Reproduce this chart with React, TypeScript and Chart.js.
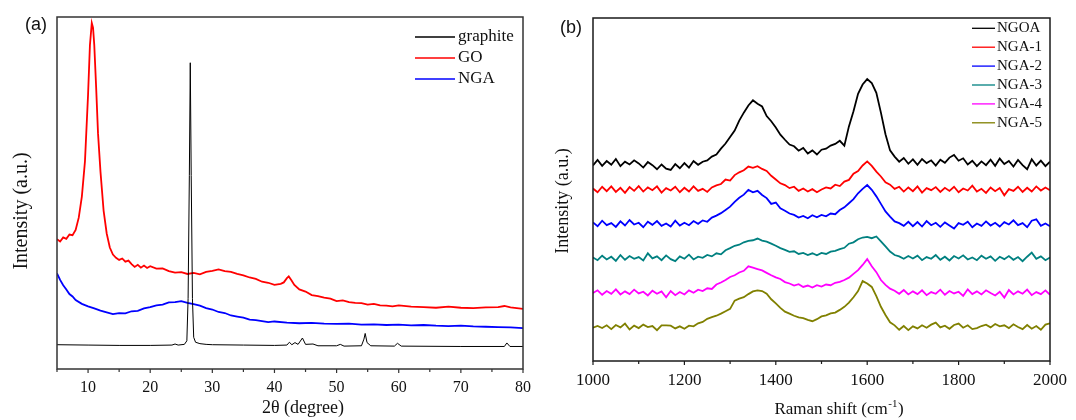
import React, { useEffect, useRef } from "react";
import { Chart, registerables } from "chart.js";

Chart.register(...registerables);

const SERIF = "'Liberation Serif', 'Times New Roman', Times, serif";
const SANS = "'Liberation Sans', Arial, Helvetica, sans-serif";

// ---------- Panel (a): XRD ----------
const xrdMajorTicks = [10, 20, 30, 40, 50, 60, 70, 80];
const xrdMinorTicks = [5, 15, 25, 35, 45, 55, 65, 75];

const graphiteX = [5, 10, 15, 20, 23.5, 24, 24.5, 25.5, 25.9, 26.1, 26.3, 26.45, 26.6, 26.8, 27.0, 27.3, 28, 29, 30, 35, 40, 42, 42.4, 42.8, 43.3, 43.8, 44.5, 45.0, 46.2, 47, 50, 50.6, 51.2, 54, 54.4, 54.6, 54.9, 55.5, 59.3, 59.8, 60.4, 70, 77, 77.4, 77.9, 80];
const graphiteY = [6.9, 6.8, 6.7, 6.7, 6.8, 7.1, 6.8, 7.0, 8.0, 20, 55, 87, 55, 20, 9.0, 7.6, 7.2, 7.0, 6.9, 6.8, 6.7, 6.8, 7.6, 6.9, 7.5, 7.0, 8.8, 7.0, 7.1, 6.6, 6.6, 7.0, 6.5, 6.6, 8.5, 10.1, 7.5, 6.6, 6.5, 7.3, 6.5, 6.4, 6.4, 7.4, 6.4, 6.4];

const goX = [5, 5.5, 6, 6.5, 7, 7.5, 8, 8.5, 9, 9.5, 10, 10.3, 10.6, 10.8, 11.0, 11.3, 11.6, 12, 12.5, 13, 13.5, 14, 14.5, 15, 15.5, 16, 16.5, 17, 17.5, 18, 18.5, 19, 19.5, 20, 21, 22, 23, 24, 25, 26, 27, 28, 29, 30, 31, 32, 33, 34, 35, 36, 37, 38, 39, 40, 41, 41.5, 42, 42.3, 42.7, 43.2, 44, 45, 46, 47, 48, 49, 50, 51, 52, 53, 54, 55, 56, 57, 58, 59, 60, 62, 64, 66, 68, 70, 72, 74, 76, 77, 78, 80];
const goY = [36.9, 36.2, 37.4, 37.0, 38.2, 38.0, 39.5, 43.0, 49.0, 59.0, 78.0, 92.0, 98.3, 97.0, 92.0, 80.0, 67.0, 56.0, 45.0, 38.5, 34.5, 32.5, 31.6, 31.0, 31.4, 30.5, 30.8, 29.8, 29.0, 29.6, 28.8, 29.4, 28.7, 29.2, 28.5, 28.6, 27.8, 27.4, 27.5, 27.0, 27.3, 26.9, 27.6, 27.9, 28.3, 27.8, 27.6, 27.0, 26.6, 26.0, 25.6, 24.8, 24.5, 23.9, 24.2, 24.6, 25.8, 26.3, 25.3, 23.9, 22.6, 22.0, 21.0, 20.7, 20.3, 20.0, 19.3, 19.5, 19.0, 18.8, 18.7, 18.3, 18.5, 18.1, 18.0, 17.8, 18.1, 17.7, 17.6, 17.4, 17.7, 17.4, 17.3, 17.5, 17.6, 17.9, 17.5, 17.1];

const ngaX = [5, 5.5, 6, 6.5, 7, 7.5, 8, 9, 10, 11, 12, 13, 14, 15, 16, 17, 18, 19, 20, 21, 22, 23, 24, 25, 26, 27, 28, 29, 30, 31, 32, 33, 34, 35, 36, 37, 38, 39, 40, 42, 44, 46, 48, 50, 52, 54, 56, 58, 60, 62, 64, 66, 68, 70, 72, 74, 76, 78, 80];
const ngaY = [27.2, 25.3, 23.8, 22.6, 21.3, 20.6, 19.6, 18.5, 17.8, 17.2, 16.6, 16.1, 15.6, 15.9, 15.8, 16.4, 16.5, 17.2, 17.6, 18.1, 18.3, 18.9, 19.0, 19.3, 18.8, 18.4, 18.0, 17.3, 16.9, 16.2, 15.9, 15.2, 14.9, 14.6, 14.0, 13.9, 13.6, 13.3, 13.5, 13.2, 13.0, 13.1, 12.9, 12.8, 12.9, 12.6, 12.7, 12.5, 12.6, 12.4, 12.5, 12.3, 12.2, 12.3, 12.1, 12.0, 11.9, 11.8, 11.6];

const xrdLabels = ["graphite", "GO", "NGA"];
const xrdColors = ["#000000", "#ff0000", "#0000ff"];

// ---------- Panel (b): Raman ----------
const ramanMajorTicks = [1000, 1200, 1400, 1600, 1800, 2000];
const ramanMinorTicks = [1100, 1300, 1500, 1700, 1900];

const ramanShift = [1000, 1010, 1020, 1030, 1040, 1050, 1060, 1070, 1080, 1090, 1100, 1110, 1120, 1130, 1140, 1150, 1160, 1170, 1180, 1190, 1200, 1210, 1220, 1230, 1240, 1250, 1260, 1270, 1280, 1290, 1300, 1310, 1320, 1330, 1340, 1350, 1360, 1370, 1380, 1390, 1400, 1410, 1420, 1430, 1440, 1450, 1460, 1470, 1480, 1490, 1500, 1510, 1520, 1530, 1540, 1550, 1560, 1570, 1580, 1590, 1600, 1610, 1620, 1630, 1640, 1650, 1660, 1670, 1680, 1690, 1700, 1710, 1720, 1730, 1740, 1750, 1760, 1770, 1780, 1790, 1800, 1810, 1820, 1830, 1840, 1850, 1860, 1870, 1880, 1890, 1900, 1910, 1920, 1930, 1940, 1950, 1960, 1970, 1980, 1990, 2000];

const ngoa = [57.0, 58.6, 56.9, 58.3, 57.2, 58.9, 56.8, 58.1, 57.3, 58.5, 57.6, 56.4, 58.0, 57.1, 55.9, 57.3, 56.1, 55.7, 57.4, 56.2, 57.7, 56.4, 58.3, 57.2, 58.1, 58.5, 59.6, 60.2, 61.9, 63.4, 65.3, 67.2, 70.1, 72.4, 74.5, 76.0, 75.0, 74.2, 71.4, 69.9, 68.1, 66.0, 64.5, 63.1, 62.6, 61.3, 62.1, 60.5, 61.4, 60.2, 61.6, 61.9, 62.8, 63.3, 64.2, 62.8, 68.4, 72.8, 77.9, 80.6, 82.2, 81.0, 78.2, 72.4, 66.1, 61.4, 59.6, 58.1, 59.2, 57.5, 58.8, 57.2, 58.9, 57.7, 58.5, 57.0, 58.7, 57.8, 59.3, 60.1, 58.4, 59.1, 57.3, 58.4, 56.8, 58.2, 57.1, 58.7, 56.9, 59.0, 57.4, 58.3, 56.7, 58.6, 57.1, 55.9, 58.8, 57.0, 58.4, 56.8, 58.1];
const nga1 = [50.3, 49.2, 50.8, 49.5, 50.9, 49.3, 50.5, 49.0, 50.7, 49.6, 51.0, 49.4, 50.6, 49.8, 50.9, 49.1, 50.4, 49.7, 50.8, 49.2, 50.5, 49.4, 50.9, 49.6, 50.2, 49.3, 50.6, 51.2, 51.6, 52.9, 52.6, 54.2, 55.0, 55.6, 56.7, 56.3, 56.8, 56.0, 55.4, 54.0, 52.9, 51.8, 51.3, 50.4, 50.8, 49.6, 50.3, 49.4, 50.1, 49.2, 50.0, 50.6, 50.3, 51.4, 51.0, 52.3, 52.8, 54.6, 55.4, 57.0, 58.2, 56.9, 55.2, 53.8, 52.1, 51.4, 50.2, 50.8, 49.4, 50.6, 49.5, 50.9, 49.1, 50.4, 49.8, 50.7, 49.3, 50.5, 49.6, 50.8, 49.2, 50.3, 49.7, 51.1, 49.4, 50.2, 49.0, 50.6, 49.5, 50.4, 48.3, 50.1, 49.6, 50.8, 49.3, 50.5, 49.4, 50.9, 49.7, 50.6, 49.8];
const nga2 = [40.4, 39.3, 40.9, 39.6, 40.2, 39.1, 40.7, 39.5, 41.1, 39.8, 40.3, 39.0, 40.6, 39.7, 40.8, 39.4, 40.1, 39.2, 40.9, 39.5, 40.3, 39.6, 40.8, 40.0, 41.0, 40.6, 41.8, 42.4, 43.1, 44.0, 45.0, 46.4, 47.6, 48.5, 49.9, 49.2, 49.6, 48.4, 47.5, 45.8, 46.2, 44.5, 43.8, 43.0, 42.6, 41.8, 42.3, 41.6, 42.5, 41.9, 42.6, 42.2, 43.0, 42.8, 44.0, 44.8, 46.0, 47.2, 48.9, 50.2, 51.3, 49.9, 48.0, 45.8, 43.6, 42.1, 40.7, 40.2, 39.4, 40.6, 39.3, 40.5, 39.2, 40.8, 39.6, 40.3, 39.1, 40.4, 39.5, 38.6, 40.2, 39.7, 40.6, 39.0, 40.1, 39.4, 40.7, 39.5, 40.3, 39.2, 40.5, 39.8, 41.0, 39.6, 40.2, 39.0, 40.9, 41.3, 39.4, 40.1, 39.3];
const nga3 = [30.2, 29.4, 30.7, 29.6, 30.4, 29.2, 30.9, 29.5, 30.6, 29.8, 30.3, 29.3, 31.4, 29.9, 30.5, 29.4, 30.8, 29.7, 29.1, 30.5, 29.8, 31.0, 29.6, 30.4, 30.1, 30.9, 30.5, 31.4, 31.1, 32.3, 32.9, 33.6, 33.9, 34.6, 35.0, 35.2, 35.7, 35.1, 34.8, 34.2, 33.6, 32.9, 32.4, 31.8, 32.0, 31.2, 31.5, 30.9, 31.4, 30.8, 31.5, 31.2, 31.9, 32.1, 32.6, 33.0, 34.2, 34.6, 35.5, 36.0, 36.2, 35.8, 36.3, 34.9, 33.4, 31.9, 30.9, 30.5, 29.8, 30.6, 29.9, 30.7, 29.4, 30.3, 29.8, 30.9, 29.5, 30.4, 29.3, 30.6, 29.9, 30.8, 29.6, 30.2, 29.4, 30.7, 29.8, 30.5, 29.2, 30.4, 29.7, 30.6, 29.5, 30.3, 29.1, 30.4, 31.6, 29.8, 30.5, 29.4, 30.2];
const nga4 = [19.8, 20.6, 19.3, 20.4, 19.6, 20.9, 19.4, 20.3, 19.5, 20.8, 19.7, 20.2, 19.1, 20.5, 19.6, 20.3, 18.6, 20.4, 19.2, 20.1, 19.4, 20.6, 19.9, 20.8, 20.4, 21.2, 21.0, 22.3, 22.9, 23.6, 24.5, 25.0, 25.8, 26.3, 27.6, 27.2, 26.8, 26.4, 25.7, 25.0, 24.4, 23.9, 23.0, 22.6, 22.0, 22.4, 21.6, 22.0, 21.4, 22.1, 21.7, 22.3, 22.1, 22.8, 23.1, 23.6, 24.3, 25.4, 26.5, 28.0, 29.7, 27.6, 25.9, 23.6, 22.2, 21.1, 20.5, 19.6, 20.7, 19.4, 20.3, 19.5, 20.6, 19.2, 20.1, 19.6, 20.8, 19.3, 20.4, 19.7, 20.2, 19.0, 20.9, 19.5, 20.3, 19.4, 20.6, 19.8, 19.1, 20.2, 18.5, 20.7, 19.4, 20.3, 19.6, 20.8, 19.2, 20.1, 19.5, 20.6, 19.3];
const nga5 = [9.7, 10.2, 9.6, 10.4, 9.3, 10.5, 9.8, 10.9, 9.2, 10.3, 9.6, 10.6, 9.9, 10.2, 9.0, 10.4, 10.4, 10.3, 9.5, 10.1, 9.4, 10.3, 10.1, 11.0, 11.4, 12.3, 12.8, 13.2, 13.8, 14.5, 15.2, 17.6, 18.2, 18.6, 19.5, 20.3, 20.6, 20.4, 19.6, 18.0, 16.8, 15.5, 14.4, 13.8, 13.2, 12.7, 12.5, 12.0, 11.6, 12.2, 13.0, 13.3, 13.9, 14.1, 14.9, 15.8, 17.0, 18.6, 20.4, 23.3, 22.6, 21.6, 18.9, 15.8, 13.4, 11.3, 10.4, 9.1, 10.2, 9.0, 10.1, 9.5, 10.4, 9.7, 10.6, 11.2, 9.8, 10.3, 9.4, 10.5, 10.9, 9.7, 10.4, 9.3, 9.6, 10.2, 10.6, 9.8, 10.8, 10.1, 10.4, 9.6, 10.7, 9.9, 9.3, 10.5, 9.4, 10.2, 9.1, 10.6, 11.0];

const ramanLabels = ["NGOA", "NGA-1", "NGA-2", "NGA-3", "NGA-4", "NGA-5"];
const ramanColors = ["#000000", "#ff0000", "#0000ff", "#008080", "#ff00ff", "#808000"];
const ramanSeries = [ngoa, nga1, nga2, nga3, nga4, nga5];

function zip(xs: number[], ys: number[]) {
  return xs.map((x, i) => ({ x, y: ys[i] }));
}

type Deco = {
  id: string;
  major: number[];
  minor: number[];
  frameColor: string;
  majorLen: number;
  minorLen: number;
  legend: { x1: number; x2: number; tx: number; y0: number; step: number; size: number };
  yTitle: { text: string; x: number; y: number; size: number };
  xTitle: (ctx: CanvasRenderingContext2D) => void;
  panel: { text: string; x: number; y: number; size: number };
};

function makePlugin(d: Deco) {
  return {
    id: d.id,
    afterDraw(chart: any) {
      const ctx: CanvasRenderingContext2D = chart.ctx;
      const a = chart.chartArea;
      const xs = chart.scales.x;
      ctx.save();
      ctx.strokeStyle = d.frameColor;
      ctx.lineWidth = 1.5;
      ctx.strokeRect(a.left, a.top, a.right - a.left, a.bottom - a.top);
      ctx.lineWidth = 1.2;
      ctx.beginPath();
      for (const v of d.major) {
        const p = xs.getPixelForValue(v);
        ctx.moveTo(p, a.bottom);
        ctx.lineTo(p, a.bottom + d.majorLen);
      }
      for (const v of d.minor) {
        const p = xs.getPixelForValue(v);
        ctx.moveTo(p, a.bottom);
        ctx.lineTo(p, a.bottom + d.minorLen);
      }
      ctx.stroke();
      const L = d.legend;
      chart.data.datasets.forEach((ds: any, i: number) => {
        const y = L.y0 + i * L.step;
        ctx.strokeStyle = ds.borderColor;
        ctx.lineWidth = 1.3;
        ctx.beginPath();
        ctx.moveTo(L.x1, y);
        ctx.lineTo(L.x2, y);
        ctx.stroke();
        ctx.fillStyle = "#111";
        ctx.font = `${L.size}px ${SERIF}`;
        ctx.textAlign = "left";
        ctx.textBaseline = "middle";
        ctx.fillText(ds.label, L.tx, y);
      });
      ctx.save();
      ctx.translate(d.yTitle.x, d.yTitle.y);
      ctx.rotate(-Math.PI / 2);
      ctx.fillStyle = "#111";
      ctx.font = `${d.yTitle.size}px ${SERIF}`;
      ctx.textAlign = "center";
      ctx.textBaseline = "middle";
      ctx.fillText(d.yTitle.text, 0, 0);
      ctx.restore();
      d.xTitle(ctx);
      ctx.fillStyle = "#111";
      ctx.font = `${d.panel.size}px ${SANS}`;
      ctx.textAlign = "left";
      ctx.textBaseline = "middle";
      ctx.fillText(d.panel.text, d.panel.x, d.panel.y);
      ctx.restore();
    },
  };
}

function buildConfig(opts: {
  datasets: any[];
  xMin: number;
  xMax: number;
  major: number[];
  padding: { left: number; right: number; top: number; bottom: number };
  axisHeight: number;
  tickSize: number;
  tickPadding: number;
  plugin: any;
}) {
  return {
    type: "line" as const,
    data: { datasets: opts.datasets },
    options: {
      animation: false as const,
      responsive: false,
      maintainAspectRatio: false,
      layout: { padding: opts.padding },
      plugins: {
        legend: { display: false },
        tooltip: { enabled: false },
        title: { display: false },
      },
      elements: { point: { radius: 0 }, line: { tension: 0 } },
      scales: {
        x: {
          type: "linear" as const,
          min: opts.xMin,
          max: opts.xMax,
          afterBuildTicks: (s: any) => {
            s.ticks = opts.major.map((v) => ({ value: v }));
          },
          afterFit: (s: any) => {
            s.height = opts.axisHeight;
          },
          grid: { display: false, drawTicks: false },
          border: { display: false },
          ticks: {
            padding: opts.tickPadding,
            color: "#111",
            font: { family: SERIF, size: opts.tickSize },
            maxRotation: 0,
            autoSkip: false,
            callback: (v: any) => String(v),
          },
        },
        y: { display: false, min: 0, max: 100 },
      },
    },
    plugins: [opts.plugin],
  };
}

export default function App() {
  const refA = useRef<HTMLCanvasElement>(null);
  const refB = useRef<HTMLCanvasElement>(null);

  useEffect(() => {
    const xrdData = [zip(graphiteX, graphiteY), zip(goX, goY), zip(ngaX, ngaY)];
    const xrdWidths = [1.0, 1.8, 1.8];
    const datasetsA = xrdLabels.map((label, i) => ({
      label,
      data: xrdData[i],
      borderColor: xrdColors[i],
      borderWidth: xrdWidths[i],
      pointRadius: 0,
      fill: false,
    }));

    const pluginA = makePlugin({
      id: "decoA",
      major: xrdMajorTicks,
      minor: xrdMinorTicks,
      frameColor: "#333",
      majorLen: 4,
      minorLen: 3,
      legend: { x1: 415, x2: 455, tx: 458, y0: 37, step: 21, size: 17 },
      yTitle: { text: "Intensity (a.u.)", x: 22, y: 211, size: 20 },
      xTitle: (ctx) => {
        ctx.fillStyle = "#111";
        ctx.font = `18px ${SERIF}`;
        ctx.textAlign = "center";
        ctx.textBaseline = "middle";
        ctx.fillText("2θ (degree)", 303, 408);
      },
      panel: { text: "(a)", x: 25, y: 25, size: 18 },
    });

    const datasetsB = ramanLabels.map((label, i) => ({
      label,
      data: zip(ramanShift, ramanSeries[i]),
      borderColor: ramanColors[i],
      borderWidth: 1.8,
      pointRadius: 0,
      fill: false,
    }));

    const pluginB = makePlugin({
      id: "decoB",
      major: ramanMajorTicks,
      minor: ramanMinorTicks,
      frameColor: "#1a1a1a",
      majorLen: 4,
      minorLen: 3,
      legend: { x1: 432, x2: 455, tx: 457, y0: 28.3, step: 18.9, size: 15 },
      yTitle: { text: "Intensity (a.u.)", x: 23, y: 201, size: 18 },
      xTitle: (ctx) => {
        const main = "Raman shift (cm";
        const sup = "-1";
        const end = ")";
        ctx.fillStyle = "#111";
        ctx.textBaseline = "alphabetic";
        ctx.textAlign = "left";
        ctx.font = `17px ${SERIF}`;
        const w1 = ctx.measureText(main).width;
        const w3 = ctx.measureText(end).width;
        ctx.font = `11px ${SERIF}`;
        const w2 = ctx.measureText(sup).width;
        const cx = 299;
        const base = 414;
        let x = cx - (w1 + w2 + w3 + 1) / 2;
        ctx.font = `17px ${SERIF}`;
        ctx.fillText(main, x, base);
        x += w1 + 0.5;
        ctx.font = `11px ${SERIF}`;
        ctx.fillText(sup, x, base - 7);
        x += w2 + 0.5;
        ctx.font = `17px ${SERIF}`;
        ctx.fillText(end, x, base);
      },
      panel: { text: "(b)", x: 20, y: 28, size: 18 },
    });

    const chartA = new Chart(
      refA.current as HTMLCanvasElement,
      buildConfig({
        datasets: datasetsA,
        xMin: 5,
        xMax: 80,
        major: xrdMajorTicks,
        padding: { left: 57, right: 12, top: 17, bottom: 0 },
        axisHeight: 51,
        tickSize: 16,
        tickPadding: 9,
        plugin: pluginA,
      }) as any
    );
    const chartB = new Chart(
      refB.current as HTMLCanvasElement,
      buildConfig({
        datasets: datasetsB,
        xMin: 1000,
        xMax: 2000,
        major: ramanMajorTicks,
        padding: { left: 53, right: 23, top: 18, bottom: 0 },
        axisHeight: 59,
        tickSize: 17,
        tickPadding: 9,
        plugin: pluginB,
      }) as any
    );
    return () => {
      chartA.destroy();
      chartB.destroy();
    };
  }, []);

  return (
    <div style={{ position: "fixed", left: 0, top: 0, width: 1076, height: 420, background: "#fff" }}>
      <canvas
        ref={refA}
        width={540}
        height={420}
        style={{ position: "absolute", left: 0, top: 0, width: 540, height: 420 }}
      />
      <canvas
        ref={refB}
        width={536}
        height={420}
        style={{ position: "absolute", left: 540, top: 0, width: 536, height: 420 }}
      />
    </div>
  );
}
